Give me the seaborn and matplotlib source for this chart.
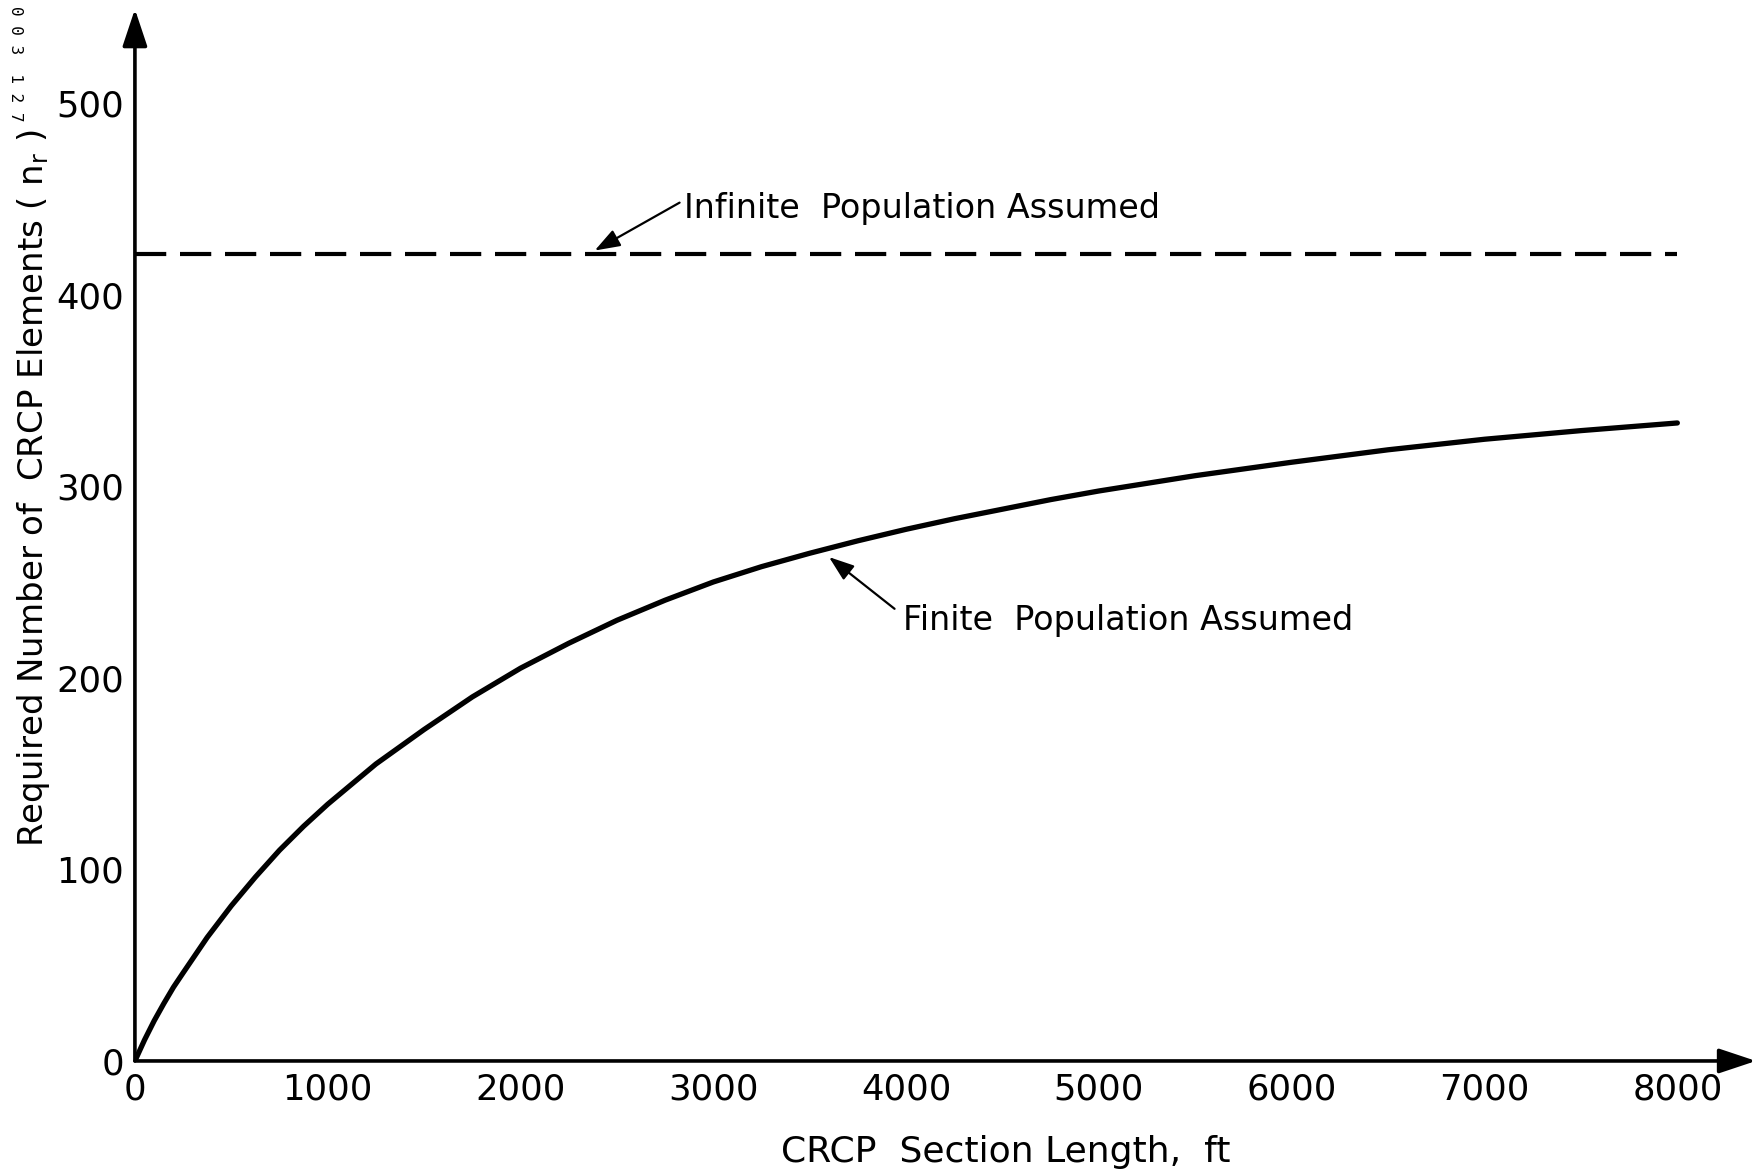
import numpy as np
import pandas as pd
import matplotlib
matplotlib.use("Agg")
import matplotlib.pyplot as plt
import seaborn as sns

# ---- data ----
length_ft = [0, 50, 100, 150, 200, 250, 375, 500, 625, 750, 875, 1000,
             1250, 1500, 1750, 2000, 2250, 2500, 2750, 3000, 3250, 3500,
             3750, 4000, 4250, 4500, 4750, 5000, 5500, 6000, 6500, 7000,
             7500, 8000]
finite_n = [0, 11, 21, 30, 38.5, 46, 64.5, 81, 96, 110, 122.5, 134,
            155, 173, 190, 205, 218, 230, 240.5, 250, 258, 265,
            271.5, 277.5, 283, 288, 293, 297.5, 305.5, 312.5, 319, 324.5,
            329, 333]
infinite_x = [0, 8000]
infinite_n = [421, 421]
x_ticks = [0, 1000, 2000, 3000, 4000, 5000, 6000, 7000, 8000]
y_ticks = [0, 100, 200, 300, 400, 500]
x_label = "CRCP  Section Length,  ft"
y_label = r"Required Number of  CRCP Elements ( $\mathrm{n}_\mathrm{r}$ )"
label_infinite = "Infinite  Population Assumed"
label_finite = "Finite  Population Assumed"
stamp = "0 0 3  1 2 7"

sns.set_style("white")
plt.rcParams["font.family"] = ["DejaVu Sans"]
plt.rcParams["text.color"] = "black"
plt.rcParams["axes.labelcolor"] = "black"

fig = plt.figure(figsize=(17.59, 11.70), dpi=100)
ax = fig.add_axes([0.0767, 0.0932, 0.9216, 0.899])

df = pd.DataFrame({"length": length_ft, "n": finite_n})
sns.lineplot(data=df, x="length", y="n", ax=ax, color="black", lw=3.8)
sns.lineplot(x=infinite_x, y=infinite_n, ax=ax, color="black", lw=3.0)
ax.lines[-1].set_dashes([7.5, 3.3])
ax.lines[-1].set_dash_capstyle("butt")
ax.lines[0].set_solid_joinstyle("round")

ax.set_xlim(0, 8408)
ax.set_ylim(0, 549)
ax.set_xticks(x_ticks)
ax.set_yticks(y_ticks)
ax.set_xticklabels([str(v) for v in x_ticks])
ax.set_yticklabels([str(v) for v in y_ticks])
ax.tick_params(direction="in", length=14, width=1.5, labelsize=25.5, pad=8,
               color="black", labelcolor="black")
for s in ax.spines.values():
    s.set_visible(False)

# axis arrows
arrow_kw = dict(arrowstyle="-|>,head_length=0.6,head_width=0.2",
                mutation_scale=38, lw=2.6, color="black",
                shrinkA=0, shrinkB=0)
ax.annotate("", xy=(1, 0), xytext=(0, 0), xycoords="axes fraction",
            textcoords="axes fraction", arrowprops=arrow_kw, annotation_clip=False)
ax.annotate("", xy=(0, 1), xytext=(0, 0), xycoords="axes fraction",
            textcoords="axes fraction", arrowprops=arrow_kw, annotation_clip=False)

ax.set_xlabel(x_label, fontsize=26, color="black")
ax.set_ylabel(y_label, fontsize=24.5, color="black")
ax.xaxis.set_label_coords(0.537, -0.070)
ax.yaxis.set_label_coords(-0.051, 0.545)

ann_kw = dict(arrowstyle="-|>,head_length=0.7,head_width=0.25",
              mutation_scale=22, lw=1.6, color="black", shrinkA=0, shrinkB=0)
ax.annotate("", xy=(2385, 423), xytext=(2825, 448), arrowprops=ann_kw)
ax.text(2850, 445, label_infinite, fontsize=24, ha="left", va="center",
        color="black")
ax.annotate("", xy=(3600, 263), xytext=(3940, 236), arrowprops=ann_kw)
ax.text(3985, 230, label_finite, fontsize=24, ha="left", va="center",
        color="black")

fig.text(0.009, 0.995, stamp, rotation=270, fontsize=11.5, ha="center", va="top",
         family="DejaVu Sans Mono", color="black")

fig.savefig("out.png", dpi=100)
